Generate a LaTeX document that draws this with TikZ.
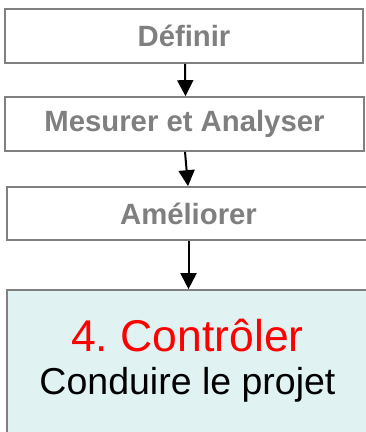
\documentclass[tikz,border=0pt]{standalone}
\usepackage{fontspec}
\setmainfont{Liberation Sans}
\usetikzlibrary{arrows.meta}
\frenchspacing
\definecolor{boxgray}{HTML}{808080}
\definecolor{txtgray}{HTML}{7F7F7F}
\definecolor{lightcyan}{HTML}{E1F2F2}
\tikzset{
  stepbox/.style={draw=boxgray, line width=1.7pt, fill=white, inner sep=0pt,
    font=\fontsize{29.3}{33}\selectfont\bfseries, text=txtgray},
  arr/.style={line width=2pt, -{Triangle[width=16pt,length=16pt]}},
}
\begin{document}
\begin{tikzpicture}[x=1pt,y=-1pt]
  \useasboundingbox (0,0) rectangle (366,432);
  \clip (0,0) rectangle (366,432);
  \node[stepbox, minimum width=358pt, minimum height=54pt] (box1) at (184,36) {Définir};
  \node[stepbox, minimum width=359pt, minimum height=54pt] (box2) at (184.5,124) {Mesurer et Analyser};
  \node[stepbox, minimum width=363pt, minimum height=53pt] (box3) at (188.5,213.5) {Améliorer};
  \node[stepbox, fill=lightcyan, minimum width=363pt, minimum height=160pt] (box4) at (188.5,370) {};
  \node[anchor=base, text=red, font=\fontsize{44.5}{48}\selectfont, inner sep=0pt] (ctl) at (187.5,351) {4. Contrôler};
  \node[anchor=base, text=black, font=\fontsize{37.5}{40}\selectfont, inner sep=0pt] (cond) at (187.5,394) {Conduire le projet};
  \draw[arr] ([xshift=1pt]box1.south) -- ([xshift=1pt]box2.north);
  \draw[arr] ([xshift=0.5pt]box2.south) -- ([xshift=-0.5pt]box3.north);
  \draw[arr] (box3.south) -- (box4.north);
\end{tikzpicture}
\end{document}
